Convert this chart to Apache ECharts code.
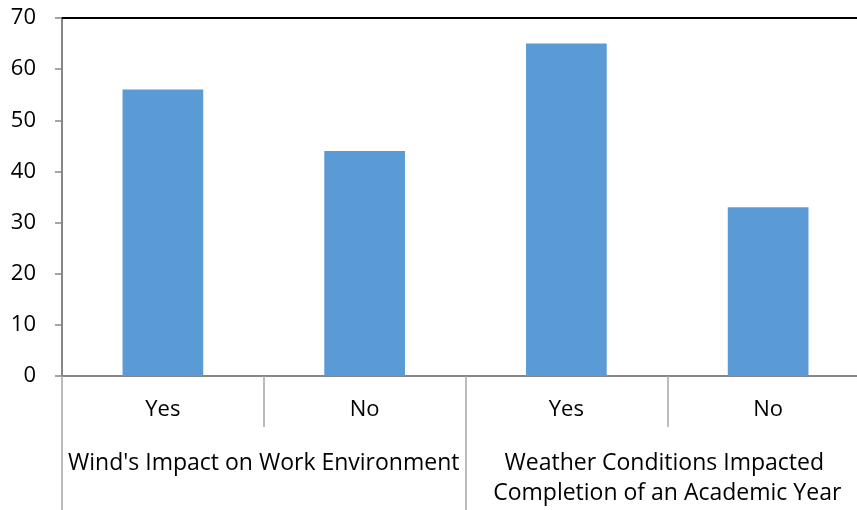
<!DOCTYPE html>
<html>
<head>
<meta charset="utf-8">
<script src="https://cdn.jsdelivr.net/npm/echarts@6/dist/echarts.min.js"></script>
<style>
  html, body { margin: 0; padding: 0; background: #fff; overflow: hidden; width: 857px; height: 510px; }
  /* the plot runs a little past the right edge of the page */
  #chart { width: 874px; height: 510px; }
</style>
</head>
<body>
<div id="chart"></div>
<script>
// Survey answers, grouped by question
const answers = ['Yes', 'No', 'Yes', 'No'];
const questions = ["Wind's Impact on Work Environment", 'Weather Conditions Impacted Completion of an Academic Year'];
const percentages = [56, 44, 65, 33];
const yTicks = { min: 0, max: 70, step: 10 };

const FONT = '"Open Sans", "Noto Sans", sans-serif';
const chart = echarts.init(document.getElementById('chart'), null, { width: 874, height: 510 });

chart.setOption({
  animation: false,
  grid: { left: 62, right: 0, top: 18, bottom: 134, containLabel: false },
  xAxis: [
    {
      type: 'category',
      data: answers,
      position: 'bottom',
      axisLine: { show: true, lineStyle: { color: '#868686', width: 2 } },
      axisTick: { show: true, length: 51, lineStyle: { color: '#a6a6a6', width: 1.5 } },
      axisLabel: { color: '#000', fontSize: 22, fontFamily: FONT, margin: 22, verticalAlign: 'top', lineHeight: 24, interval: 0 }
    },
    {
      type: 'category',
      data: questions,
      position: 'bottom',
      axisLine: { show: false },
      axisTick: { show: true, length: 134, lineStyle: { color: '#a6a6a6', width: 1.5 } },
      axisLabel: {
        color: '#000', fontSize: 23, fontFamily: FONT, margin: 72, interval: 0,
        verticalAlign: 'top', lineHeight: 30, width: 410, overflow: 'break'
      }
    },
    {
      type: 'category',
      data: answers,
      position: 'top',
      axisLine: { show: true, lineStyle: { color: '#000', width: 2 } },
      axisTick: { show: false },
      axisLabel: { show: false }
    }
  ],
  yAxis: {
    type: 'value',
    min: yTicks.min,
    max: yTicks.max,
    interval: yTicks.step,
    axisLine: { show: true, lineStyle: { color: '#868686', width: 2 } },
    axisTick: { show: true, length: 7, lineStyle: { color: '#868686', width: 1.5 } },
    splitLine: { show: false },
    axisLabel: { color: '#000', fontSize: 22, fontFamily: FONT, margin: 26 }
  },
  series: [{
    type: 'bar',
    xAxisIndex: 0,
    data: percentages,
    barWidth: '40%',
    itemStyle: { color: '#5B9BD5' }
  }]
});
</script>
</body>
</html>
